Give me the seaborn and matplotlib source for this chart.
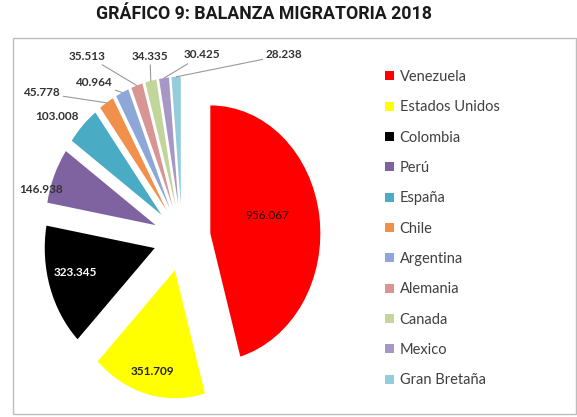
import matplotlib
matplotlib.use("Agg")
import matplotlib.pyplot as plt
from matplotlib.patches import Rectangle
import numpy as np
import seaborn as sns

# Balanza migratoria 2018 por país
countries = ["Venezuela", "Estados Unidos", "Colombia", "Perú", "España", "Chile",
             "Argentina", "Alemania", "Canada", "Mexico", "Gran Bretaña"]
values = [956067, 351709, 323345, 146938, 103008, 45778,
          40964, 35513, 34335, 30425, 28238]
colors = ["#FF0000", "#FFFF00", "#000000", "#7F62A0", "#4AABC5", "#F0904A",
          "#8DA8D8", "#D89593", "#C2D69B", "#A797C4", "#93CDDD"]
title = "GRÁFICO 9: BALANZA MIGRATORIA 2018"

W_PX, H_PX = 577, 417
EXPLODE = 0.26


def fmt(v):
    return f"{v:,}".replace(",", ".")


sns.set_theme(style="white")
plt.rcParams["font.family"] = ["Lato", "DejaVu Sans"]

fig = plt.figure(figsize=(W_PX / 100, H_PX / 100), dpi=100)

# pie axes: unit radius spans 110 px horizontally and 128 px vertically
cx_px, cy_px = 182, 238
rx, ry = 110, 128
xa, ya = 1.5, 1.4
ax = fig.add_axes([(cx_px - xa * rx) / W_PX, (H_PX - cy_px - ya * ry) / H_PX,
                   2 * xa * rx / W_PX, 2 * ya * ry / H_PX])

wedges, _ = ax.pie(values, colors=colors, startangle=90, counterclock=False,
                   explode=[EXPLODE] * len(values), radius=1.0,
                   wedgeprops=dict(linewidth=0))
ax.set_aspect("auto")
ax.set_xlim(-xa, xa)
ax.set_ylim(-ya, ya)
ax.axis("off")

# labels inside or just beyond the slices: (radius, angle shift from mid-angle, colour)
inside = {0: (0.54, 7, "#2a0000"), 1: (0.82, 0, "#262626"), 2: (0.75, -3, "white"),
          3: (1.08, 8, "#333333"), 4: (1.22, 5, "#333333")}
for i, (rlab, dang, col) in inside.items():
    w = wedges[i]
    mid = np.deg2rad((w.theta1 + w.theta2) / 2 + dang)
    ox, oy = w.center
    ax.text(ox + rlab * np.cos(mid), oy + rlab * np.sin(mid), fmt(values[i]),
            ha="center", va="center", fontsize=8.5, color=col,
            fontweight="bold" if i != 0 else "normal")


def to_data(px, py):
    return (px - cx_px) / rx, (cy_px - py) / ry


# small slices: labels above with leader lines
outside = {5: ((60, 93), "right"), 6: ((112, 83), "right"), 7: ((106, 56), "right"),
           8: ((150, 56), "center"), 9: ((184, 55), "left"), 10: ((266, 55), "left")}
for i, ((px, py), ha) in outside.items():
    w = wedges[i]
    mid = np.deg2rad((w.theta1 + w.theta2) / 2)
    ox, oy = w.center
    edge = (ox + np.cos(mid), oy + np.sin(mid))
    ax.annotate(fmt(values[i]), xy=edge, xytext=to_data(px, py),
                ha=ha, va="center", fontsize=8.5, fontweight="bold", color="#333333",
                arrowprops=dict(arrowstyle="-", color="#9a9a9a", lw=0.8,
                                shrinkA=0, shrinkB=0),
                annotation_clip=False)

# legend
leg = fig.legend(wedges, countries, loc="upper left",
                 bbox_to_anchor=(385 / W_PX, (H_PX - 70) / H_PX),
                 frameon=False, fontsize=10.5, handlelength=0.6, handleheight=0.6,
                 handletextpad=0.4, labelspacing=1.12, borderpad=0, borderaxespad=0)
for t in leg.get_texts():
    t.set_color("#404040")

# title and outer frame
fig.text(264 / W_PX, (H_PX - 14) / H_PX, title, ha="center", va="center",
         fontsize=12.8, fontweight="bold", color="#1a1a1a", family=["Roboto", "DejaVu Sans"])
fig.patches.append(Rectangle((13 / W_PX, 3 / H_PX), 563 / W_PX, 376 / H_PX,
                             transform=fig.transFigure, fill=False,
                             edgecolor="#BDBDBD", lw=1.0))

fig.savefig("out.png", dpi=100)
